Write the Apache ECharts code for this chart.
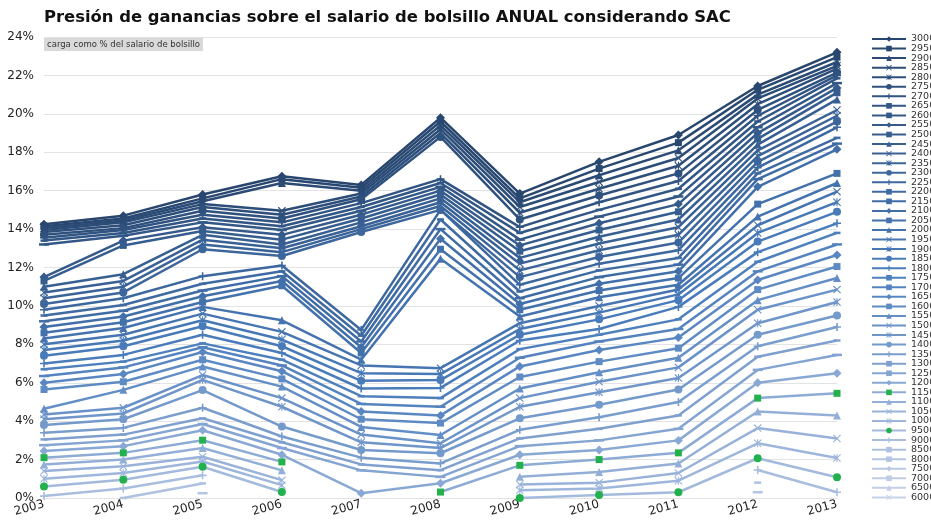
<!DOCTYPE html>
<html>
<head>
<meta charset="utf-8">
<script src="https://cdn.jsdelivr.net/npm/echarts@6/dist/echarts.min.js"></script>
<style>
  html, body { margin: 0; padding: 0; background: #fff; }
  #main { width: 931px; height: 523px; }
</style>
</head>
<body>
<div id="main"></div>
<script>
// años (eje X)
const years = ['2003', '2004', '2005', '2006', '2007', '2008', '2009', '2010', '2011', '2012', '2013'];

// salarios de bolsillo, de mayor a menor (orden de la leyenda)
const salaries = [30000, 29500, 29000, 28500, 28000, 27500, 27000, 26500, 26000, 25500,
  25000, 24500, 24000, 23500, 23000, 22500, 22000, 21500, 21000, 20500,
  20000, 19500, 19000, 18500, 18000, 17500, 17000, 16500, 16000, 15500,
  15000, 14500, 14000, 13500, 13000, 12500, 12000, 11500, 11000, 10500,
  10000, 9500, 9000, 8500, 8000, 7500, 7000, 6500, 6000];

// carga (% del salario de bolsillo) por año, mismo orden que salaries
const v2003 = [14.25, 14.15, 14.05, 13.95, 13.85, 13.7, 13.55, 13.4, 13.2, 11.5,
  11.3, 11.0, 10.7, 10.4, 10.1, 9.8, 9.5, 9.2, 8.9, 8.6,
  8.3, 8.0, 7.7, 7.4, 7.0, 6.7, 6.35, 6.0, 5.65, 4.65,
  4.35, 4.1, 3.8, 3.4, 3.05, 2.75, 2.45, 2.1, 1.75, 1.4,
  1.0, 0.6, 0.1, null, null, null, null, null, null];
const v2004 = [14.7, 14.55, 14.45, 14.35, 14.2, 14.05, 13.95, 13.8, 13.65, 13.4,
  13.15, 11.65, 11.3, 11.0, 10.7, 10.4, 10.05, 9.75, 9.45, 9.15,
  8.85, 8.5, 8.2, 7.9, 7.45, 7.1, 6.8, 6.45, 6.05, 5.63,
  4.7, 4.4, 4.1, 3.65, 3.3, 3.0, 2.7, 2.35, 2.0, 1.65,
  1.3, 0.95, 0.5, 0.0, null, null, null, null, null];
const v2005 = [15.8, 15.6, 15.45, 15.3, 15.15, 14.95, 14.75, 14.55, 14.35, 14.1,
  13.9, 13.7, 13.45, 13.2, 12.95, 11.55, 11.15, 10.8, 10.5, 10.2,
  9.95, 9.6, 9.25, 8.94, 8.5, 8.05, 7.85, 7.6, 7.2, 6.85,
  6.4, 6.15, 5.62, 4.7, 4.15, 3.85, 3.53, 3.01, 2.6, 2.15,
  1.9, 1.63, 1.18, 0.76, 0.25, null, null, null, null];
const v2006 = [16.75, 16.6, 16.4, 14.95, 14.75, 14.55, 14.35, 14.15, 13.95, 13.7,
  13.45, 13.2, 13.0, 12.8, 12.6, 12.1, 11.8, 11.55, 11.3, 11.05,
  9.25, 8.65, 8.25, 7.9, 7.55, 7.2, 6.9, 6.6, 6.2, 5.8,
  5.2, 4.75, 3.72, 3.2, 2.9, 2.6, 2.25, 1.88, 1.44, 0.93,
  0.67, 0.31, null, null, null, null, null, null, null];
const v2007 = [16.3, 16.15, 16.0, 15.85, 15.7, 15.55, 15.35, 15.15, 14.95, 14.75,
  14.55, 14.35, 14.15, 14.0, 13.85, 8.75, 8.45, 8.15, 7.85, 7.55,
  7.2, 6.9, 6.5, 6.1, 5.7, 5.3, 4.9, 4.5, 4.1, 3.7,
  3.3, 2.9, 2.5, 2.1, 1.75, 1.44, 0.25, null, null, null,
  null, null, null, null, null, null, null, null, null];
const v2008 = [19.8, 19.6, 19.4, 19.2, 19.0, 18.8, 16.6, 16.4, 16.2, 16.0,
  15.8, 15.6, 15.4, 15.2, 15.0, 15.0, 14.5, 14.0, 13.5, 12.95,
  12.45, 6.76, 6.45, 6.14, 5.73, 5.2, 4.75, 4.3, 3.9, 3.28,
  2.85, 2.6, 2.33, 1.8, 1.45, 1.1, 0.77, 0.31, null, null,
  null, null, null, null, null, null, null, null, null];
const v2009 = [15.85, 15.6, 15.4, 15.15, 14.85, 14.5, 14.1, 13.8, 13.45, 13.15,
  12.85, 12.5, 12.2, 11.85, 11.5, 11.1, 10.75, 10.4, 10.1, 9.8,
  9.45, 9.1, 8.8, 8.5, 8.2, 7.75, 7.3, 6.85, 6.3, 5.7,
  5.2, 4.75, 4.15, 3.55, 3.1, 2.7, 2.25, 1.7, 1.1, 0.7,
  0.4, 0.0, null, null, null, null, null, null, null];
const v2010 = [17.5, 17.15, 16.8, 16.45, 16.1, 15.75, 15.4, 15.0, 14.65, 14.3,
  13.95, 13.6, 13.25, 12.9, 12.55, 12.2, 11.85, 11.5, 11.15, 10.8,
  10.45, 10.0, 9.65, 9.3, 8.8, 8.5, 8.15, 7.7, 7.1, 6.55,
  6.05, 5.5, 4.85, 4.2, 3.6, 3.0, 2.5, 2.0, 1.35, 0.8,
  0.5, 0.15, null, null, null, null, null, null, null];
const v2011 = [18.9, 18.5, 18.1, 17.7, 17.3, 16.9, 16.5, 16.1, 15.7, 15.3,
  14.9, 14.5, 14.1, 13.7, 13.3, 12.9, 12.5, 12.15, 11.8, 11.45,
  11.1, 10.85, 10.6, 10.3, 9.95, 9.3, 8.8, 8.35, 7.8, 7.3,
  6.8, 6.25, 5.65, 5.0, 4.3, 3.6, 3.0, 2.35, 1.8, 1.3,
  0.9, 0.3, null, null, null, null, null, null, null];
const v2012 = [21.45, 21.25, 21.0, 20.8, 20.5, 20.2, 19.9, 19.6, 19.3, 19.0,
  18.7, 18.4, 18.1, 17.8, 17.5, 17.2, 16.9, 16.6, 16.2, 15.3,
  14.65, 14.2, 13.8, 13.35, 12.8, 12.3, 11.8, 11.35, 10.85, 10.3,
  9.8, 9.1, 8.5, 7.9, 7.35, 6.67, 6.0, 5.2, 4.5, 3.64,
  2.85, 2.07, 1.46, 0.8, 0.3, null, null, null, null];
const v2013 = [23.2, 22.95, 22.7, 22.5, 22.35, 22.15, 22.0, 21.85, 21.6, 21.35,
  21.1, 20.75, 20.2, 19.9, 19.6, 19.3, 18.75, 18.45, 18.15, 16.9,
  16.4, 15.95, 15.4, 14.9, 14.3, 13.8, 13.2, 12.65, 12.05, 11.45,
  10.85, 10.2, 9.5, 8.9, 8.2, 7.45, 6.5, 5.45, 4.3, 3.1,
  2.08, 1.08, 0.3, null, null, null, null, null, null];

const byYear = [v2003, v2004, v2005, v2006, v2007, v2008, v2009, v2010, v2011, v2012, v2013];

// marcadores tipo Excel: rombo, cuadrado, triángulo, x, asterisco, círculo, +, guión, guión largo
const X_PATH = 'path://M1,0 L5,4 L9,0 L10,1 L6,5 L10,9 L9,10 L5,6 L1,10 L0,9 L4,5 L0,1 Z';
const STAR_PATH = 'path://M1,0 L5,4 L9,0 L10,1 L6,5 L10,9 L9,10 L5,6 L1,10 L0,9 L4,5 L0,1 Z M4.3,0 L5.7,0 L5.7,10 L4.3,10 Z';
const PLUS_PATH = 'path://M4,0 L6,0 L6,4 L10,4 L10,6 L6,6 L6,10 L4,10 L4,6 L0,6 L0,4 L4,4 Z';
const DASH_PATH = 'path://M0,0 L10,0 L10,10 L0,10 Z';
const markers = [
  { symbol: 'diamond', size: 9 },
  { symbol: 'rect', size: 7 },
  { symbol: 'triangle', size: 8 },
  { symbol: X_PATH, size: 8 },
  { symbol: STAR_PATH, size: 8 },
  { symbol: 'circle', size: 8 },
  { symbol: PLUS_PATH, size: 8 },
  { symbol: DASH_PATH, size: [7, 2.5] },
  { symbol: DASH_PATH, size: [10, 2.5] }
];

function mix(a, b, t) {
  return a.map((v, i) => Math.round(v + (b[i] - v) * t));
}
function lineColor(i) {
  const dark = [40, 70, 110], mid = [74, 124, 188], light = [200, 211, 234];
  const c = i <= 24 ? mix(dark, mid, i / 24) : mix(mid, light, (i - 24) / 24);
  return 'rgb(' + c.join(',') + ')';
}
const GREEN = '#22b14c';

const series = salaries.map((s, i) => {
  const m = markers[i % markers.length];
  const col = lineColor(i);
  const green = (s === 9500 || s === 11500);
  return {
    name: String(s),
    type: 'line',
    data: byYear.map(arr => arr[i]),
    symbol: m.symbol,
    symbolSize: m.size,
    showAllSymbol: true,
    connectNulls: false,
    lineStyle: { color: col, width: 2.5 },
    itemStyle: { color: green ? GREEN : col },
    emphasis: { disabled: true }
  };
});

const chart = echarts.init(document.getElementById('main'), null, { renderer: 'canvas' });
chart.setOption({
  animation: false,
  backgroundColor: '#fff',
  title: [
    {
      text: 'Presión de ganancias sobre el salario de bolsillo ANUAL considerando SAC',
      left: 44, top: 10, padding: 0,
      textStyle: { fontFamily: 'DejaVu Sans', fontWeight: 'bold', fontSize: 16.4, color: '#111' }
    },
    {
      text: 'carga como % del salario de bolsillo',
      left: 44, top: 38,
      padding: [2, 3],
      backgroundColor: '#d9d9d9',
      textStyle: { fontFamily: 'DejaVu Sans', fontWeight: 'normal', fontSize: 8.5, color: '#333' }
    }
  ],
  legend: {
    orient: 'vertical',
    left: 866, top: 29,
    itemWidth: 34, itemHeight: 7, itemGap: -0.45,
    textStyle: { fontFamily: 'DejaVu Sans', fontSize: 9.5, color: '#333', lineHeight: 9 },
    data: salaries.map(String)
  },
  grid: { left: 44, right: 94, top: 37, bottom: 25, containLabel: false },
  xAxis: {
    type: 'category',
    data: years,
    boundaryGap: false,
    axisLine: { show: false },
    axisTick: { show: false },
    axisLabel: { rotate: 15, fontFamily: 'DejaVu Sans', fontSize: 12, color: '#222', margin: 6 }
  },
  yAxis: {
    type: 'value',
    min: 0, max: 24, interval: 2,
    axisLabel: { formatter: v => v + '%', fontFamily: 'DejaVu Sans', fontSize: 12, color: '#222', margin: 10 },
    splitLine: { lineStyle: { color: '#e3e3e3', width: 1 } },
    axisLine: { show: false },
    axisTick: { show: false }
  },
  series: series
});
</script>
</body>
</html>
